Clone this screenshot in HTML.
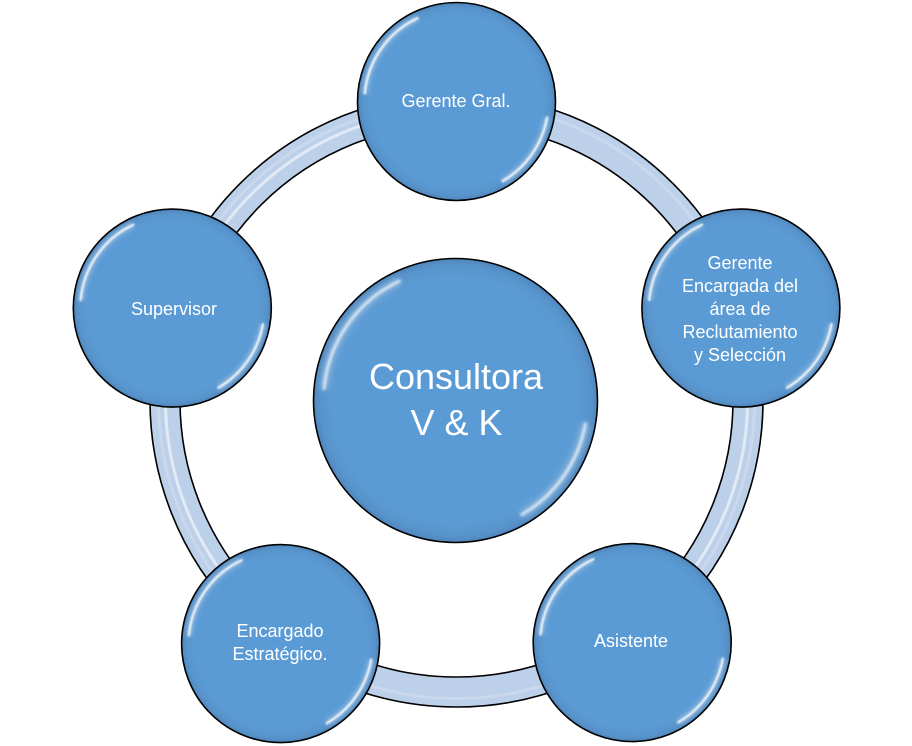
<!DOCTYPE html>
<html>
<head>
<meta charset="utf-8">
<style>
  html, body { margin:0; padding:0; background:#ffffff; }
  body { width:912px; height:746px; overflow:hidden; }
  svg { display:block; }
  text { font-family: "Liberation Sans", "DejaVu Sans", sans-serif; fill:#ffffff; }
</style>
</head>
<body>
<svg width="912" height="746" viewBox="0 0 912 746" xmlns="http://www.w3.org/2000/svg">
  <defs>
    <radialGradient id="cfill" cx="50%" cy="50%" r="50%">
      <stop offset="0%" stop-color="#5b9bd5"/>
      <stop offset="86%" stop-color="#5b9bd5"/>
      <stop offset="95%" stop-color="#5894cc"/>
      <stop offset="100%" stop-color="#4f86bb"/>
    </radialGradient>
    <filter id="soft" x="-20%" y="-20%" width="140%" height="140%">
      <feGaussianBlur stdDeviation="0.9"/>
    </filter>
    <filter id="soft2" x="-20%" y="-20%" width="140%" height="140%">
      <feGaussianBlur stdDeviation="2.2"/>
    </filter>
  </defs>

  <!-- Ring -->
  <circle cx="456.5" cy="400.5" r="291.5" fill="none" stroke="#bdd0e9" stroke-width="30"/>
  <!-- stripes on some segments -->
  <path d="M 285.45 635.92 A 291 291 0 0 1 456.5 109.5" fill="none" stroke="#ffffff" stroke-opacity="0.55" stroke-width="3" transform="translate(0,0)"/>
  <path d="M 733.27 310.58 A 291 291 0 0 1 627.55 635.92" fill="none" stroke="#ffffff" stroke-opacity="0.55" stroke-width="3"/>
  <circle cx="456.5" cy="400.5" r="298" fill="none" stroke="#ffffff" stroke-opacity="0.18" stroke-width="3"/>
  <circle cx="456.5" cy="400.5" r="306.5" fill="none" stroke="#000000" stroke-width="1.6"/>
  <circle cx="456.5" cy="400.5" r="276.5" fill="none" stroke="#000000" stroke-width="1.6"/>

  <!-- Central circle -->
  <g transform="translate(455.5,400.5) scale(1.4343)">
    <circle cx="0" cy="0" r="99" fill="url(#cfill)" stroke="#000" stroke-width="1.1"/>
    <path d="M -91.65 -8.02 A 92 92 0 0 1 -38.88 -83.38" fill="none" stroke="#ffffff" stroke-opacity="0.35" stroke-width="5" filter="url(#soft2)"/>
    <path d="M -91.65 -8.02 A 92 92 0 0 1 -38.88 -83.38" fill="none" stroke="#ffffff" stroke-opacity="0.85" stroke-width="1.6" stroke-linecap="round" filter="url(#soft)"/>
    <path d="M 90.6 15.98 A 92 92 0 0 1 46 79.67" fill="none" stroke="#ffffff" stroke-opacity="0.35" stroke-width="5" filter="url(#soft2)"/>
    <path d="M 90.6 15.98 A 92 92 0 0 1 46 79.67" fill="none" stroke="#ffffff" stroke-opacity="0.85" stroke-width="1.6" stroke-linecap="round" filter="url(#soft)"/>
  </g>

  <!-- Satellite circles -->
  <g transform="translate(456.5,101.5)">
    <circle cx="0" cy="0" r="99" fill="url(#cfill)" stroke="#000" stroke-width="1.6"/>
    <path d="M -91.65 -8.02 A 92 92 0 0 1 -38.88 -83.38" fill="none" stroke="#ffffff" stroke-opacity="0.35" stroke-width="6" filter="url(#soft2)"/>
    <path d="M -91.65 -8.02 A 92 92 0 0 1 -38.88 -83.38" fill="none" stroke="#ffffff" stroke-opacity="0.85" stroke-width="2.2" stroke-linecap="round" filter="url(#soft)"/>
    <path d="M 90.6 15.98 A 92 92 0 0 1 46 79.67" fill="none" stroke="#ffffff" stroke-opacity="0.35" stroke-width="6" filter="url(#soft2)"/>
    <path d="M 90.6 15.98 A 92 92 0 0 1 46 79.67" fill="none" stroke="#ffffff" stroke-opacity="0.85" stroke-width="2.2" stroke-linecap="round" filter="url(#soft)"/>
  </g>
  <g transform="translate(740.9,308.1)">
    <circle cx="0" cy="0" r="99" fill="url(#cfill)" stroke="#000" stroke-width="1.6"/>
    <path d="M -91.65 -8.02 A 92 92 0 0 1 -38.88 -83.38" fill="none" stroke="#ffffff" stroke-opacity="0.35" stroke-width="6" filter="url(#soft2)"/>
    <path d="M -91.65 -8.02 A 92 92 0 0 1 -38.88 -83.38" fill="none" stroke="#ffffff" stroke-opacity="0.85" stroke-width="2.2" stroke-linecap="round" filter="url(#soft)"/>
    <path d="M 90.6 15.98 A 92 92 0 0 1 46 79.67" fill="none" stroke="#ffffff" stroke-opacity="0.35" stroke-width="6" filter="url(#soft2)"/>
    <path d="M 90.6 15.98 A 92 92 0 0 1 46 79.67" fill="none" stroke="#ffffff" stroke-opacity="0.85" stroke-width="2.2" stroke-linecap="round" filter="url(#soft)"/>
  </g>
  <g transform="translate(632.2,642.6)">
    <circle cx="0" cy="0" r="99" fill="url(#cfill)" stroke="#000" stroke-width="1.6"/>
    <path d="M -91.65 -8.02 A 92 92 0 0 1 -38.88 -83.38" fill="none" stroke="#ffffff" stroke-opacity="0.35" stroke-width="6" filter="url(#soft2)"/>
    <path d="M -91.65 -8.02 A 92 92 0 0 1 -38.88 -83.38" fill="none" stroke="#ffffff" stroke-opacity="0.85" stroke-width="2.2" stroke-linecap="round" filter="url(#soft)"/>
    <path d="M 90.6 15.98 A 92 92 0 0 1 46 79.67" fill="none" stroke="#ffffff" stroke-opacity="0.35" stroke-width="6" filter="url(#soft2)"/>
    <path d="M 90.6 15.98 A 92 92 0 0 1 46 79.67" fill="none" stroke="#ffffff" stroke-opacity="0.85" stroke-width="2.2" stroke-linecap="round" filter="url(#soft)"/>
  </g>
  <g transform="translate(280.6,643.6)">
    <circle cx="0" cy="0" r="99" fill="url(#cfill)" stroke="#000" stroke-width="1.6"/>
    <path d="M -91.65 -8.02 A 92 92 0 0 1 -38.88 -83.38" fill="none" stroke="#ffffff" stroke-opacity="0.35" stroke-width="6" filter="url(#soft2)"/>
    <path d="M -91.65 -8.02 A 92 92 0 0 1 -38.88 -83.38" fill="none" stroke="#ffffff" stroke-opacity="0.85" stroke-width="2.2" stroke-linecap="round" filter="url(#soft)"/>
    <path d="M 90.6 15.98 A 92 92 0 0 1 46 79.67" fill="none" stroke="#ffffff" stroke-opacity="0.35" stroke-width="6" filter="url(#soft2)"/>
    <path d="M 90.6 15.98 A 92 92 0 0 1 46 79.67" fill="none" stroke="#ffffff" stroke-opacity="0.85" stroke-width="2.2" stroke-linecap="round" filter="url(#soft)"/>
  </g>
  <g transform="translate(172.3,308.1)">
    <circle cx="0" cy="0" r="99" fill="url(#cfill)" stroke="#000" stroke-width="1.6"/>
    <path d="M -91.65 -8.02 A 92 92 0 0 1 -38.88 -83.38" fill="none" stroke="#ffffff" stroke-opacity="0.35" stroke-width="6" filter="url(#soft2)"/>
    <path d="M -91.65 -8.02 A 92 92 0 0 1 -38.88 -83.38" fill="none" stroke="#ffffff" stroke-opacity="0.85" stroke-width="2.2" stroke-linecap="round" filter="url(#soft)"/>
    <path d="M 90.6 15.98 A 92 92 0 0 1 46 79.67" fill="none" stroke="#ffffff" stroke-opacity="0.35" stroke-width="6" filter="url(#soft2)"/>
    <path d="M 90.6 15.98 A 92 92 0 0 1 46 79.67" fill="none" stroke="#ffffff" stroke-opacity="0.85" stroke-width="2.2" stroke-linecap="round" filter="url(#soft)"/>
  </g>

  <!-- Labels -->
  <text x="456" y="389" font-size="36" text-anchor="middle">Consultora</text>
  <text x="456.5" y="435" font-size="36" text-anchor="middle">V &amp; K</text>

  <text x="456" y="107" font-size="18" text-anchor="middle">Gerente Gral.</text>

  <text x="740" y="269" font-size="18" text-anchor="middle">Gerente</text>
  <text x="740" y="292" font-size="18" text-anchor="middle">Encargada del</text>
  <text x="740" y="315" font-size="18" text-anchor="middle">área de</text>
  <text x="740" y="338" font-size="18" text-anchor="middle">Reclutamiento</text>
  <text x="740" y="361" font-size="18" text-anchor="middle">y Selección</text>

  <text x="631" y="647" font-size="18" text-anchor="middle">Asistente</text>

  <text x="280" y="637" font-size="18" text-anchor="middle">Encargado</text>
  <text x="280" y="660" font-size="18" text-anchor="middle">Estratégico.</text>

  <text x="174" y="315" font-size="18" text-anchor="middle">Supervisor</text>
</svg>
</body>
</html>
